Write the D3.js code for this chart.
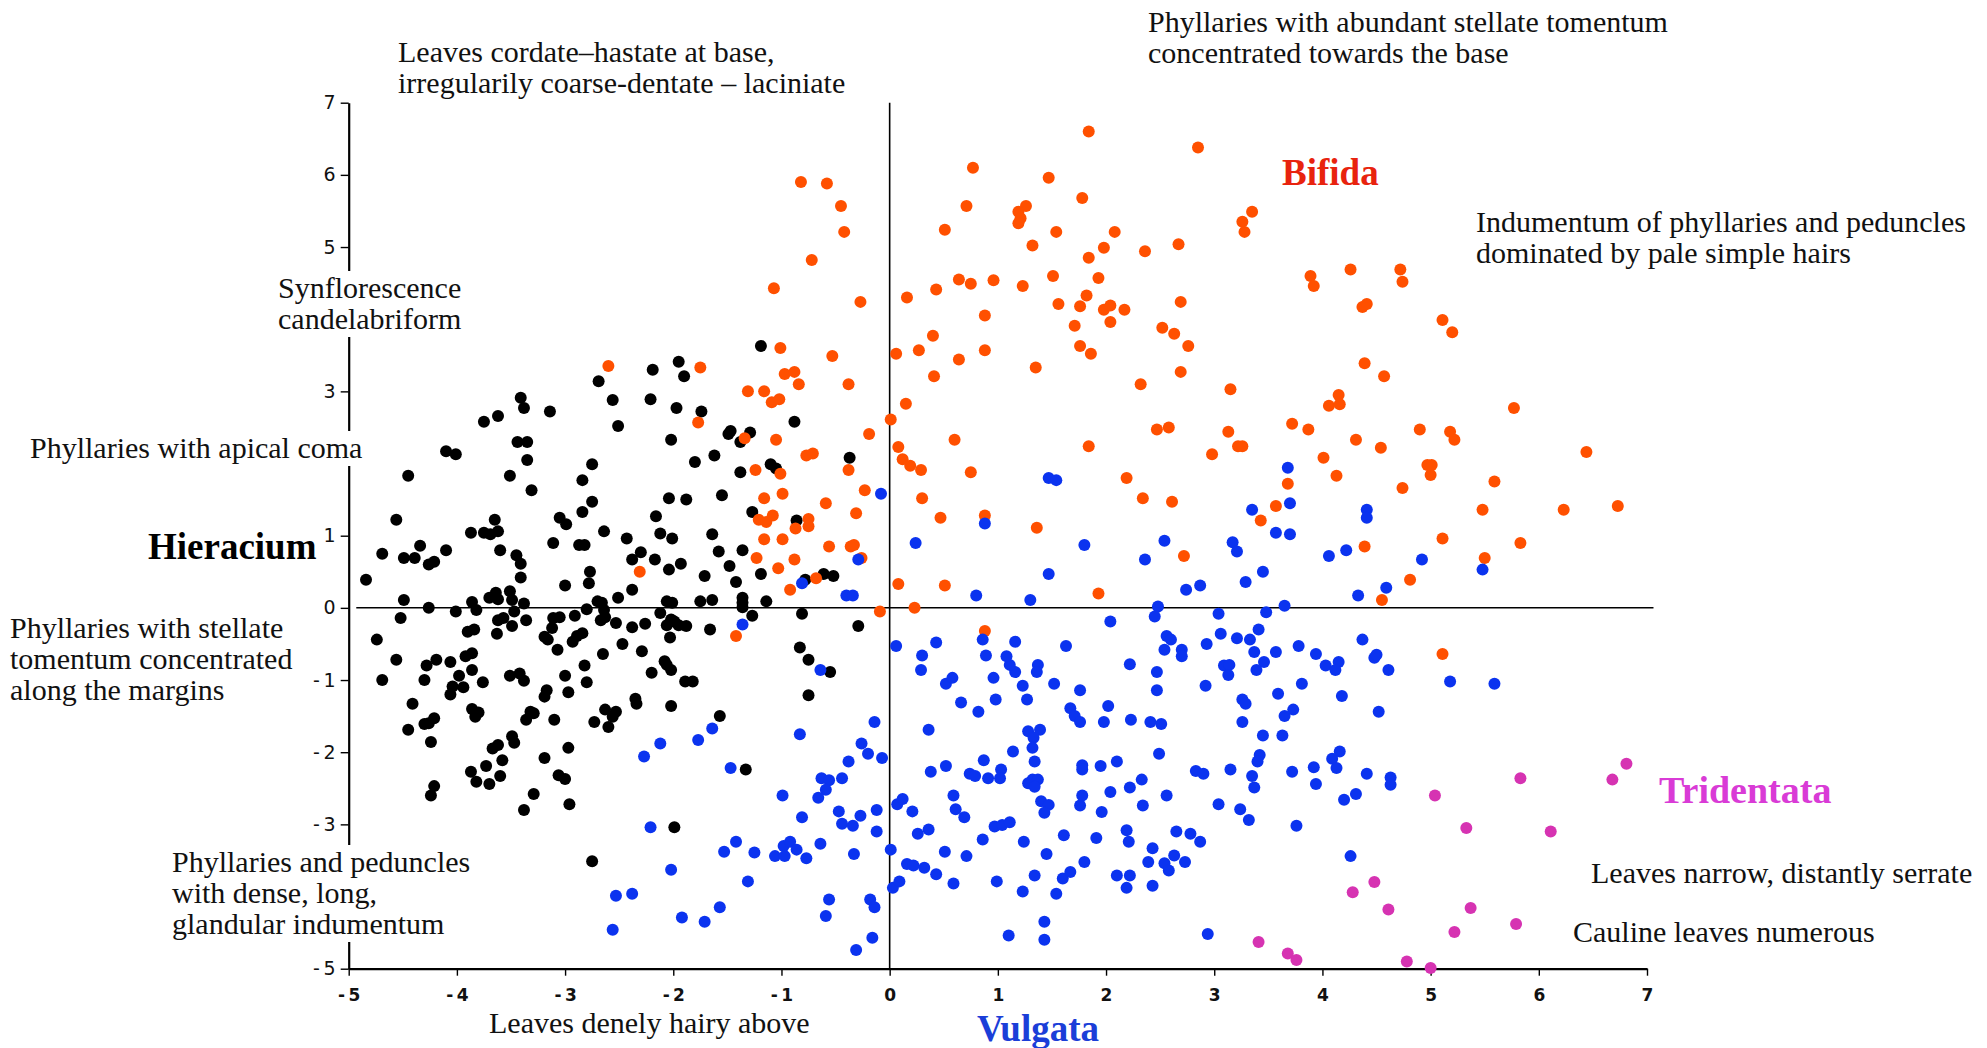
<!DOCTYPE html>
<html>
<head>
<meta charset="utf-8">
<script src="https://cdn.jsdelivr.net/npm/d3@7"></script>
<style>
  html, body { margin: 0; padding: 0; background: #ffffff; }
  svg { display: block; }
</style>
</head>
<body>
<svg id="chart" width="1987" height="1048"></svg>
<script>
// Ordination scores (axis 1, axis 2) for each specimen, grouped by section.
const hieracium = [
  [-1.19,3.63],[-2.19,3.30],[-1.95,3.41],[-1.90,3.21],[-2.69,3.14],[-2.56,2.88],[-2.21,2.89],[-1.97,2.77],
  [-1.74,2.72],[-2.51,2.52],[-0.88,2.58],[-3.41,2.91],[-3.38,2.77],[-3.14,2.72],[-3.62,2.66],[-3.75,2.58],
  [-3.44,2.30],[-3.35,2.30],[-2.02,2.33],[-1.49,2.41],[-1.47,2.45],[-1.29,2.43],[-1.38,2.30],[-4.10,2.17],
  [-4.01,2.13],[-3.35,2.05],[-4.45,1.83],[-3.51,1.83],[-3.31,1.63],[-2.75,1.99],[-2.84,1.77],[-2.75,1.47],
  [-2.84,1.33],[-1.80,2.02],[-1.62,2.11],[-1.38,1.88],[-1.10,1.99],[-1.05,1.93],[-0.37,2.08],[-2.04,1.52],
  [-1.88,1.50],[-1.55,1.56],[-2.16,1.27],[-1.27,1.33],[-0.86,1.21],[-4.56,1.22],[-3.65,1.22],[-3.05,1.25],
  [-2.99,1.16],
  [-3.87,1.04],[-3.75,1.04],[-3.69,1.02],[-3.62,1.06],[-2.64,1.06],[-2.43,0.96],[-2.12,1.03],[-2.01,0.96],
  [-1.64,1.02],[-3.11,0.90],[-2.87,0.87],[-2.82,0.87],[-4.34,0.86],[-4.10,0.80],[-4.69,0.75],[-4.49,0.69],
  [-4.39,0.69],[-4.26,0.60],[-4.21,0.64],[-3.60,0.80],[-3.45,0.73],[-3.41,0.61],[-3.41,0.42],[-4.84,0.39],
  [-2.30,0.77],[-2.38,0.67],[-2.17,0.67],[-1.93,0.61],[-2.04,0.53],[-2.77,0.50],[-2.78,0.34],[-3.00,0.31],
  [-2.38,0.25],[-1.58,0.78],[-1.36,0.80],[-1.48,0.58],[-1.71,0.44],[-1.42,0.36],[-1.19,0.47],[-0.61,0.47],
  [-0.52,0.44],[-0.78,0.39],
  [-4.49,0.11],[-4.26,0.00],[-4.52,-0.14],[-4.74,-0.44],[-4.01,-0.05],[-3.86,0.08],[-3.82,-0.03],[-3.70,0.14],
  [-3.64,0.21],[-3.62,0.12],[-3.51,0.23],[-3.49,0.11],[-3.38,0.06],[-3.47,-0.05],[-3.57,-0.14],[-3.62,-0.17],
  [-3.49,-0.25],[-3.36,-0.17],[-3.63,-0.36],[-3.90,-0.33],[-3.84,-0.30],[-3.92,-0.67],[-3.86,-0.63],[-3.86,-0.86],
  [-3.76,-1.03],[-4.56,-0.72],[-4.28,-0.80],[-4.19,-0.72],[-4.06,-0.75],[-4.69,-1.00],[-4.30,-1.00],[-3.98,-0.94],
  [-4.04,-1.09],[-4.06,-1.20],[-3.94,-1.10],[-4.41,-1.33],[-3.51,-0.94],[-3.42,-0.91],[-3.38,-1.01],[-3.86,-1.40],
  [-3.80,-1.45],[-3.83,-1.51],[-4.21,-1.53],[-4.30,-1.61],[-4.26,-1.60],[-4.45,-1.69],[-4.24,-1.86],[-3.67,-1.95],
  [-3.62,-1.90],[-3.49,-1.78],[-3.47,-1.87],[-3.73,-2.19],[-3.58,-2.11],[-3.87,-2.27],[-3.82,-2.41],[-3.70,-2.44],
  [-3.60,-2.33],[-4.21,-2.47],[-4.24,-2.60],[-3.38,-2.80],[-3.29,-2.58],[-2.96,-2.72],[-3.19,-2.08],[-3.06,-2.32],
  [-3.00,-2.37],[-2.97,-1.94],[-3.36,-1.55],[-3.32,-1.44],[-3.29,-1.46],[-3.10,-1.55],[-3.19,-1.23],[-3.17,-1.14],
  [-2.97,-1.17],[-3.00,-0.94],[-2.80,-1.03],[-2.82,-0.80],[-3.07,-0.58],[-3.19,-0.40],[-3.16,-0.44],[-3.12,-0.28],
  [-3.11,-0.14],[-3.05,-0.13],[-2.93,-0.47],[-2.89,-0.39],[-2.84,-0.35],[-2.91,-0.11],[-2.80,-0.02],[-2.70,0.09],
  [-2.66,0.07],[-2.64,-0.03],[-2.67,-0.17],[-2.63,-0.13],[-2.53,-0.21],[-2.51,0.14],[-2.65,-0.64],[-2.47,-0.50],
  [-2.38,-0.27],[-2.26,-0.22],[-2.29,-0.60],[-2.20,-0.90],[-2.08,-0.74],[-2.02,-0.86],[-2.06,-0.79],[-2.35,-1.26],
  [-2.34,-1.33],[-2.63,-1.41],[-2.53,-1.44],[-2.56,-1.51],[-2.60,-1.65],[-2.73,-1.58],[-2.02,-1.36],[-1.89,-1.02],
  [-1.82,-1.02],[-2.12,-0.07],[-2.06,0.09],[-2.01,0.07],[-2.06,-0.24],[-2.02,-0.16],[-1.99,-0.19],[-1.95,-0.24],
  [-1.88,-0.25],[-2.03,-0.41],[-1.75,0.09],[-1.64,0.11],[-1.66,-0.30],[-1.36,0.14],[-1.36,0.07],[-1.36,0.01],
  [-1.14,0.09],[-1.27,-0.11],[-0.81,-0.08],[-0.29,-0.25],[-0.83,-0.55],[-0.75,-0.72],[-0.55,-0.89],[-0.75,-1.21],
  [-1.57,-1.50],[-1.33,-2.24],[-1.99,-3.04],[-2.75,-3.51]
];

const bifida = [
  [-0.82,5.90],[-0.58,5.88],[-0.45,5.57],[-0.42,5.21],[-0.72,4.82],[-1.07,4.43],[-0.27,4.24],[0.77,6.10],
  [0.71,5.57],[0.51,5.24],[0.64,4.55],[0.75,4.49],[0.96,4.54],[0.43,4.41],[0.16,4.30],[0.88,4.05],
  [0.40,3.77],[0.06,3.52],[0.27,3.57],[0.88,3.57],[0.64,3.44],[0.41,3.21],[0.15,2.83],[0.01,2.61],
  [0.60,2.33],[0.08,2.23],[0.12,2.06],[0.19,1.97],[0.29,1.91],[0.75,1.88],[0.30,1.52],[0.47,1.25],
  [0.88,1.28],[-0.19,2.41],[-0.23,1.63],[-0.31,1.31],[-0.38,1.91],[-0.38,3.10],[-0.53,3.49],[-1.01,3.60],
  [-0.97,3.24],[-0.88,3.27],[-0.84,3.10],[-1.31,3.00],[-1.16,3.00],[-1.09,2.85],[-1.02,2.89],[-2.60,3.35],
  [-1.75,3.33],[-1.77,2.57],[-1.34,2.35],[-1.05,2.33],[-0.77,2.11],[-0.71,2.14],[-1.24,1.91],[-1.01,1.86],
  [-0.99,1.58],[-1.16,1.52],[-0.59,1.45],[-1.21,1.22],[-1.14,1.19],[-1.08,1.28],[-0.75,1.23],[-0.87,1.10],
  [-0.75,1.13],
  [1.84,6.60],[2.85,6.38],[1.47,5.96],[1.78,5.68],[1.26,5.57],[1.19,5.49],[1.21,5.40],[1.19,5.33],
  [1.54,5.21],[2.08,5.21],[1.32,5.02],[1.98,4.99],[1.84,4.85],[2.36,4.94],[2.67,5.04],[3.35,5.49],
  [3.26,5.35],[3.28,5.21],[1.51,4.60],[1.23,4.46],[1.93,4.57],[1.82,4.33],[1.56,4.21],[1.76,4.18],
  [1.98,4.13],[2.04,4.19],[2.17,4.13],[2.04,3.96],[1.71,3.91],[2.69,4.24],[2.52,3.88],[2.63,3.80],
  [2.76,3.63],[1.76,3.63],[1.86,3.52],[1.35,3.33],[2.69,3.27],[2.32,3.10],[3.15,3.03],[3.89,4.60],
  [3.92,4.46],[4.26,4.69],[4.72,4.69],[4.74,4.52],[4.37,4.17],[4.41,4.21],[5.11,3.99],[5.20,3.82],
  [4.39,3.39],[4.57,3.21],[4.15,2.95],[4.06,2.80],[4.16,2.82],[5.77,2.77],[2.47,2.47],[2.58,2.50],
  [3.13,2.44],[3.72,2.55],[3.87,2.47],[4.90,2.47],[5.18,2.44],[5.22,2.33],[1.84,2.24],[2.98,2.13],
  [3.22,2.24],[3.26,2.24],[4.31,2.33],[4.54,2.22],[4.01,2.08],[6.44,2.16],[2.19,1.80],[2.34,1.52],
  [2.61,1.47],[3.68,1.72],[3.57,1.41],[3.43,1.21],[4.13,1.83],[4.97,1.98],[5.01,1.98],[5.00,1.84],
  [4.74,1.66],[5.59,1.75],[5.48,1.36],[6.23,1.36],[6.73,1.41],[1.36,1.11],
  [-1.16,0.95],[-0.99,0.95],[-0.56,0.85],[-0.36,0.85],[-0.33,0.87],[-0.26,0.69],[-1.23,0.69],[-1.03,0.55],
  [-0.88,0.67],[-2.31,0.50],[-0.68,0.41],[-0.92,0.25],[0.08,0.33],[0.51,0.31],[-0.09,-0.05],[0.23,0.00],
  [-1.42,-0.39],[0.88,-0.32],
  [2.72,0.72],[1.93,0.20],[4.39,0.85],[5.11,0.96],[5.83,0.90],[5.50,0.69],[4.81,0.39],[4.55,0.11],
  [5.11,-0.64]
];

const vulgata = [
  [-0.08,1.58],[0.88,1.17],
  [1.47,1.80],[1.54,1.77],[3.68,1.94],[3.70,1.45],[3.35,1.36],[4.41,1.36],[4.41,1.25],
  [0.24,0.90],[-0.29,0.67],[-0.81,0.34],[-0.40,0.17],[-0.34,0.17],[0.80,0.17],[-1.36,-0.23],[0.06,-0.53],
  [0.43,-0.48],[0.86,-0.44],[0.30,-0.66],[0.89,-0.66],[0.29,-0.86],[-0.64,-0.86],[0.52,-1.05],[0.58,-0.97],
  [0.96,-0.97],[0.66,-1.31],[0.82,-1.44],[0.98,-1.27],[-0.14,-1.58],[0.36,-1.69],[-0.83,-1.75],[-1.64,-1.67],
  [-1.77,-1.83],[-2.12,-1.88],[-2.27,-2.06],[-1.47,-2.22],[-0.26,-1.88],[-0.20,-2.02],[-0.07,-2.08],[-0.38,-2.13],
  [-0.63,-2.36],[-0.56,-2.39],[-0.44,-2.36],[-0.59,-2.52],[-0.66,-2.63],[-0.99,-2.60],[-0.81,-2.90],[-0.47,-2.82],
  [-0.44,-2.99],[-0.34,-3.02],[-0.27,-2.88],[-0.12,-2.80],[-0.12,-3.10],[-0.64,-3.27],[-0.33,-3.41],[0.01,-3.35],
  [0.52,-2.19],[0.38,-2.27],[0.87,-2.11],[0.74,-2.30],[0.79,-2.33],[0.91,-2.36],[0.59,-2.60],[0.07,-2.72],
  [0.12,-2.65],[0.21,-2.82],[0.61,-2.79],[0.69,-2.90],[0.26,-3.13],[0.36,-3.07],[0.86,-3.21],[0.51,-3.38],
  [0.71,-3.44],[0.16,-3.55],[0.22,-3.57],[0.32,-3.60],[0.43,-3.69],[0.59,-3.82],[0.03,-3.88],[0.09,-3.79],
  [-1.53,-3.38],[-1.42,-3.24],[-1.25,-3.39],[-1.06,-3.44],[-0.98,-3.30],[-0.97,-3.44],[-0.92,-3.24],[-0.86,-3.35],
  [-0.77,-3.47],[-1.31,-3.79],[-2.02,-3.63],[-2.21,-3.04],[-2.53,-3.99],[-2.38,-3.96],[-2.56,-4.46],[-1.92,-4.29],
  [-1.71,-4.35],[-1.57,-4.15],[-0.56,-4.04],[-0.59,-4.27],[-0.18,-4.04],[-0.14,-4.15],[-0.16,-4.57],[-0.31,-4.74],
  [1.80,0.87],[2.54,0.93],[2.36,0.67],[3.17,0.91],[3.21,0.78],[3.57,1.04],[3.70,1.02],[1.47,0.47],
  [1.30,0.11],[2.74,0.25],[2.87,0.31],[3.29,0.36],[3.45,0.50],[4.06,0.72],[4.22,0.80],[4.92,0.67],
  [5.48,0.53],[4.33,0.17],[4.59,0.28],[3.65,0.03],[2.48,0.02],[2.45,-0.12],[3.04,-0.08],[3.48,-0.06],
  [2.04,-0.19],[1.16,-0.47],[1.63,-0.53],[2.56,-0.39],[2.60,-0.44],[2.54,-0.58],[2.70,-0.58],[2.70,-0.67],
  [2.93,-0.50],[3.06,-0.36],[3.21,-0.42],[3.33,-0.44],[3.41,-0.30],[3.37,-0.61],[3.57,-0.61],[3.78,-0.53],
  [3.94,-0.64],[4.37,-0.44],[4.48,-0.69],[4.50,-0.65],[4.61,-0.86],[4.03,-0.80],[4.15,-0.75],[4.12,-0.86],
  [3.46,-0.75],[3.39,-0.86],[3.09,-0.80],[3.14,-0.79],[3.13,-0.93],[5.18,-1.02],[5.59,-1.05],[2.22,-0.78],
  [2.47,-0.89],[2.47,-1.14],[2.92,-1.08],[3.81,-1.05],[3.59,-1.19],[4.18,-1.22],[3.26,-1.27],[3.29,-1.33],
  [3.73,-1.41],[3.65,-1.50],[4.52,-1.44],[3.26,-1.58],[3.45,-1.77],[3.63,-1.77],[3.42,-2.04],[3.40,-2.13],
  [4.16,-1.99],[4.09,-2.09],[4.13,-2.22],[3.92,-2.21],[3.72,-2.27],[3.94,-2.44],[4.41,-2.30],[4.63,-2.35],
  [4.63,-2.45],[4.31,-2.58],[4.20,-2.66],[3.76,-3.02],[4.26,-3.44],[3.35,-2.33],[3.37,-2.49],[3.15,-2.24],
  [2.83,-2.26],[2.90,-2.30],[3.04,-2.72],[3.24,-2.79],[3.32,-2.94],[2.56,-2.60],[2.33,-2.38],[2.22,-2.49],
  [2.34,-2.74],[2.04,-2.55],[1.96,-2.83],[1.78,-2.60],[1.76,-2.74],[2.10,-2.13],[1.95,-2.19],[1.78,-2.18],
  [1.78,-2.24],[2.49,-2.02],[2.23,-1.55],[2.41,-1.58],[2.51,-1.61],[1.98,-1.58],[2.02,-1.36],[1.76,-1.14],
  [1.52,-1.05],[1.67,-1.39],[1.71,-1.50],[1.76,-1.58],[1.23,-1.08],[1.27,-1.27],[1.16,-0.89],[1.11,-0.79],
  [1.08,-0.67],[1.37,-0.79],[1.36,-0.89],[1.28,-1.71],[1.39,-1.69],[1.33,-1.80],[1.32,-1.94],[1.14,-1.99],
  [1.34,-2.13],[1.03,-2.24],[1.02,-2.36],[1.28,-2.43],[1.32,-2.38],[1.37,-2.38],[1.34,-2.48],[1.40,-2.68],
  [1.47,-2.73],[1.43,-2.84],[0.97,-3.03],[1.04,-3.01],[1.11,-2.97],[1.24,-3.24],[1.61,-3.15],[1.91,-3.19],
  [2.19,-3.08],[2.21,-3.24],[1.45,-3.41],[1.80,-3.52],[2.43,-3.33],[2.39,-3.52],[2.63,-3.43],[2.73,-3.52],
  [2.54,-3.54],[2.58,-3.64],[2.65,-3.10],[2.78,-3.13],[2.87,-3.24],[0.99,-3.79],[1.34,-3.71],[1.60,-3.75],
  [1.67,-3.66],[1.23,-3.93],[1.54,-3.96],[2.10,-3.71],[2.22,-3.71],[2.19,-3.88],[2.43,-3.85],[1.43,-4.35],
  [1.43,-4.60],[1.10,-4.54],[2.94,-4.52]
];

const tridentata = [
  [6.81,-2.16],[6.68,-2.38],[5.83,-2.36],[5.04,-2.60],[5.33,-3.05],[6.11,-3.10],[4.48,-3.80],[4.28,-3.94],
  [4.61,-4.18],[5.37,-4.16],[5.79,-4.38],[5.22,-4.49],[3.41,-4.63],[3.68,-4.79],[3.76,-4.88],[4.78,-4.90],
  [5.00,-4.99]
];

const tickValues = [-5, -4, -3, -2, -1, 0, 1, 2, 3, 4, 5, 6, 7];
// y tick labels that sit beneath the note panels on the left margin
const coveredYTickLabels = [4, 2, -4];

// Character-state notes placed around the ordination (lines of text).
const notes = [
  ["Leaves cordate\u2013hastate at base,", "irregularily coarse-dentate \u2013 laciniate"],
  ["Phyllaries with abundant stellate tomentum", "concentrated towards the base"],
  ["Indumentum of phyllaries and peduncles", "dominated by pale simple hairs"],
  ["Synflorescence", "candelabriform"],
  ["Phyllaries with apical coma"],
  ["Phyllaries with stellate", "tomentum concentrated", "along the margins"],
  ["Phyllaries and peduncles", "with dense, long,", "glandular indumentum"],
  ["Leaves denely hairy above"],
  ["Leaves narrow, distantly serrate"],
  ["Cauline leaves numerous"]
];
// Anchor (left x, first baseline y) of each note, in page pixels.
const noteAnchors = [
  [398, 62], [1148, 32], [1476, 232], [278, 298], [30, 458],
  [10, 638], [172, 872], [489, 1033], [1591, 883], [1573, 942]
];

const sectionNames = ["Hieracium", "Bifida", "Vulgata", "Tridentata"];
const sectionData = [hieracium, bifida, vulgata, tridentata];
const sectionDotColors = ["#000000", "#ff5000", "#0b33ef", "#d633b2"];
const sectionLabelColors = ["#000000", "#e8230e", "#1b3ed8", "#d93bd6"];
const sectionLabelAnchors = [[148, 559], [1282, 185], [977, 1041], [1659, 803]];
const sectionLabelSizes = [37, 37, 37, 38];

// ---- drawing ----
const svg = d3.select("#chart");
svg.append("rect").attr("width", 1987).attr("height", 1048).attr("fill", "#ffffff");

const x = d3.scaleLinear().domain([-5, 7]).range([348.7, 1647]);
const y = d3.scaleLinear().domain([-5, 7]).range([968.7, 102.7]);

const fmt = d => d < 0 ? "-\u2009" + Math.abs(d) : String(d);
const fmtY = d => coveredYTickLabels.includes(d) ? "" : fmt(d);
const serif = "'Liberation Serif', 'Times New Roman', serif";
const sans = "'DejaVu Sans', Verdana, sans-serif";

// zero reference lines
svg.append("line")
  .attr("x1", x(0)).attr("x2", x(0))
  .attr("y1", y(7)).attr("y2", y(-5))
  .attr("stroke", "#000").attr("stroke-width", 1.6);
svg.append("line")
  .attr("x1", x(-4.93)).attr("x2", x(7.06))
  .attr("y1", y(0)).attr("y2", y(0))
  .attr("stroke", "#000").attr("stroke-width", 1.5);

// axes
const xAxis = svg.append("g")
  .attr("transform", `translate(0,${y(-5)})`)
  .call(d3.axisBottom(x).tickValues(tickValues).tickSize(7).tickSizeOuter(0)
        .tickPadding(13).tickFormat(fmt));
const yAxis = svg.append("g")
  .attr("transform", `translate(${x(-5)},0)`)
  .call(d3.axisLeft(y).tickValues(tickValues).tickSize(8).tickSizeOuter(0)
        .tickPadding(5).tickFormat(fmtY));

[xAxis, yAxis].forEach(g => {
  g.select(".domain").attr("stroke", "#000").attr("stroke-width", 2.2);
  g.selectAll(".tick line").attr("stroke", "#000").attr("stroke-width", 1.4);
  g.selectAll(".tick text").attr("fill", "#111").attr("font-family", sans);
});
xAxis.selectAll(".tick text").attr("font-size", 17).attr("font-weight", "bold");
yAxis.selectAll(".tick text").attr("font-size", 19);

// notes on white panels (they interrupt the axis where they overlap it)
const noteLayer = svg.append("g");
notes.forEach((lines, i) => {
  const [ax, ay] = noteAnchors[i];
  const g = noteLayer.append("g");
  const t = g.append("text")
    .attr("x", ax).attr("y", ay)
    .attr("font-family", serif).attr("font-size", 30).attr("fill", "#111");
  lines.forEach((ln, j) => {
    t.append("tspan").attr("x", ax).attr("dy", j === 0 ? 0 : 31).text(ln);
  });
  const bb = t.node().getBBox();
  g.insert("rect", "text")
    .attr("x", bb.x - 2).attr("y", bb.y)
    .attr("width", bb.width + 4).attr("height", bb.height + 2)
    .attr("fill", "#ffffff");
});

// section names
sectionNames.forEach((name, i) => {
  svg.append("text")
    .attr("x", sectionLabelAnchors[i][0]).attr("y", sectionLabelAnchors[i][1])
    .attr("font-family", serif).attr("font-weight", "bold")
    .attr("font-size", sectionLabelSizes[i])
    .attr("fill", sectionLabelColors[i])
    .text(name);
});

// specimens
sectionData.forEach((pts, i) => {
  svg.append("g")
    .selectAll("circle")
    .data(pts)
    .join("circle")
    .attr("cx", d => x(d[0]))
    .attr("cy", d => y(d[1]))
    .attr("r", 6)
    .attr("fill", sectionDotColors[i]);
});
</script>
</body>
</html>
